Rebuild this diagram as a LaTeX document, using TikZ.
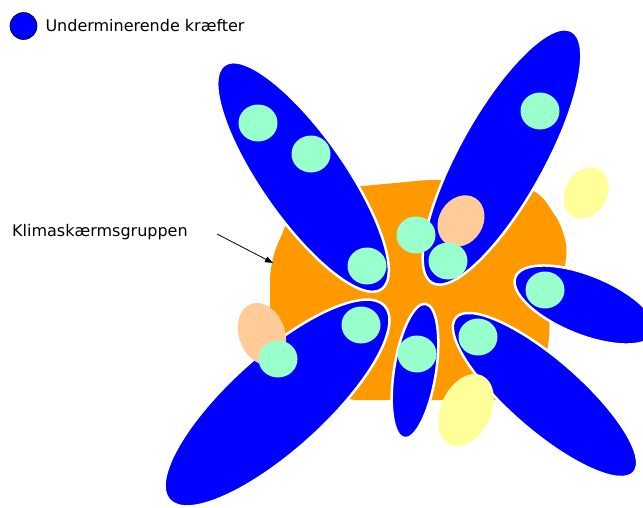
\documentclass[tikz,border=0pt]{standalone}
\usepackage{fontspec}
\setmainfont{DejaVu Sans}
\usetikzlibrary{arrows.meta,positioning}
\definecolor{kblue}{RGB}{0,0,255}
\definecolor{korange}{RGB}{255,153,0}
\definecolor{kgreen}{RGB}{153,255,204}
\definecolor{kpeach}{RGB}{255,204,153}
\definecolor{kyellow}{RGB}{255,255,153}

\begin{document}
\begin{tikzpicture}[
    x=1pt, y=-1pt,
    gruppe/.style={fill=korange, rounded corners=18pt},
    kraft/.style={fill=kblue, draw=white, line width=2.5pt},
    aktoer/.style={fill=kgreen},
    peach/.style={fill=kpeach},
    gul/.style={fill=kyellow},
    tekst/.style={font=\fontsize{16}{19}\selectfont, inner sep=0pt},
    pil/.style={-{Triangle[length=8pt,width=6pt]}, line width=0.8pt}
]
\useasboundingbox (0,0) rectangle (643,507);

% legend
\node[circle, fill=kblue, draw=black, line width=0.6pt, minimum size=27pt, inner sep=0pt] (legend) at (23.5,26) {};
\node[tekst, right=8pt of legend] (legendtxt) {Underminerende kræfter};

% klimaskaermsgruppen
\fill[gruppe] (300,192) -- (437,179) -- (536,187) -- (566,232) -- (567,268) -- (550,300)
    -- (549,350) -- (530,400) -- (340,400) -- (300,370) -- (270,330) -- (270,262) -- cycle;

% underminerende kraefter
\draw[kraft] (303,177) ellipse [x radius=137pt, y radius=42pt, rotate=-55];
\draw[kraft] (502,157) ellipse [x radius=144pt, y radius=43pt, rotate=61];
\draw[kraft] (585,305) ellipse [x radius=75pt, y radius=30pt, rotate=-22];
\draw[kraft] (545,395) ellipse [x radius=118pt, y radius=36pt, rotate=-41];
\draw[kraft] (277,403) ellipse [x radius=145pt, y radius=48pt, rotate=42];
\draw[kraft] (415,371) ellipse [x radius=68pt, y radius=21pt, rotate=81];

% andre
\fill[peach] (461,221) ellipse [x radius=27pt, y radius=22pt, rotate=58];
\fill[peach] (262,334) ellipse [x radius=23pt, y radius=32pt, rotate=20];
\fill[gul] (586,193) ellipse [x radius=27pt, y radius=21pt, rotate=60];
\fill[gul] (466,410) ellipse [x radius=38pt, y radius=25pt, rotate=65];

% aktoerer
\fill[aktoer] (258,123) ellipse [x radius=19.5pt, y radius=18.5pt];
\fill[aktoer] (311,154) ellipse [x radius=19.5pt, y radius=18.5pt];
\fill[aktoer] (367,266) ellipse [x radius=19.5pt, y radius=18.5pt];
\fill[aktoer] (416,235) ellipse [x radius=19.5pt, y radius=18.5pt];
\fill[aktoer] (448,261) ellipse [x radius=19.5pt, y radius=18.5pt];
\fill[aktoer] (540,111) ellipse [x radius=19.5pt, y radius=18.5pt];
\fill[aktoer] (545,290) ellipse [x radius=19.5pt, y radius=18.5pt];
\fill[aktoer] (361,325) ellipse [x radius=19.5pt, y radius=18.5pt];
\fill[aktoer] (417,354) ellipse [x radius=19.5pt, y radius=18.5pt];
\fill[aktoer] (478,337) ellipse [x radius=19.5pt, y radius=18.5pt];
\fill[aktoer] (278,359) ellipse [x radius=19.5pt, y radius=18.5pt];

% label og pil
\node[tekst, anchor=base west] (klima) at (12,236) {Klimaskærmsgruppen};
\coordinate (pilstart) at (217,234);
\coordinate (pilspids) at (273,263);
\draw[pil] (pilstart) -- (pilspids);
\end{tikzpicture}
\end{document}
